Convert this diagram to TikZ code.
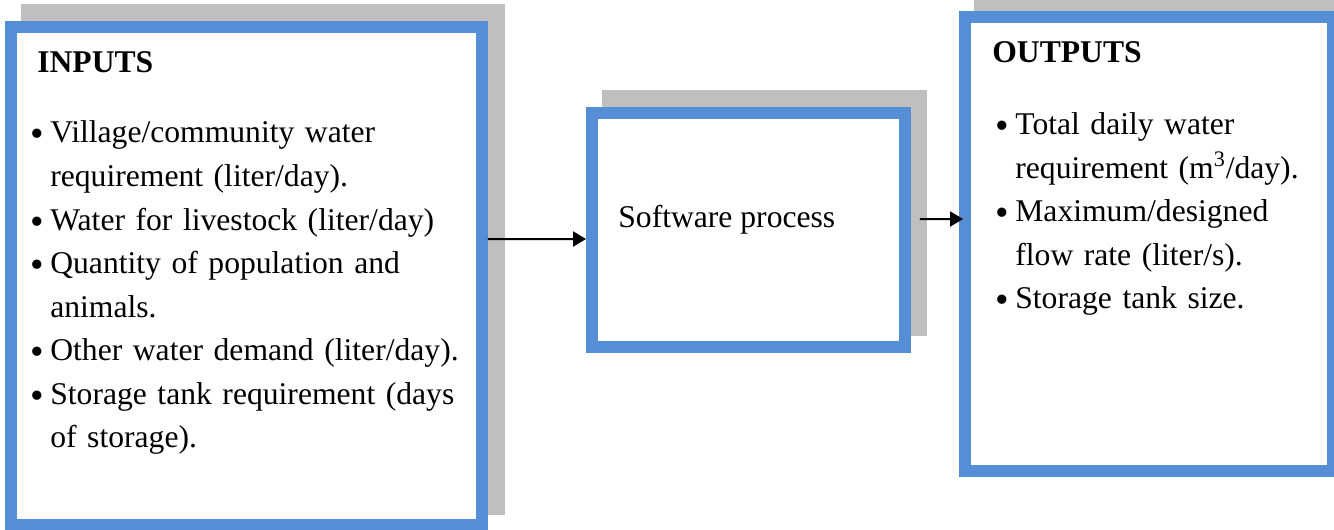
\documentclass[tikz,border=0pt]{standalone}
\usepackage{fontspec}
\setmainfont{Liberation Serif}
\usetikzlibrary{arrows.meta}
\definecolor{frame}{HTML}{558ED5}
\definecolor{backdrop}{HTML}{BFBFBF}

% one bullet entry with hanging indent
\newcommand{\bulletitem}[1]{\par\hangindent=0.39cm\hangafter=1\noindent\strut\makebox[0.39cm][l]{\raisebox{-2.3pt}{\fontsize{22}{24.8}\selectfont\textbullet}}#1\par}

\begin{document}
\begin{tikzpicture}[
  x=0.02cm, y=-0.02cm,
  panel/.style={draw=frame, line width=0.24cm, fill=white, rectangle},
  txt/.style={inner sep=0pt, font=\fontsize{18}{24.8}\selectfont},
  head/.style={txt, font=\fontsize{18}{24.8}\selectfont\bfseries},
  listtext/.style={txt, text width=8.8cm, align=left, anchor=north west},
  arr/.style={-{Triangle[length=0.26cm, width=0.3cm]}, line width=0.04cm}
]
  \useasboundingbox (0,0) rectangle (1334,529);

  % grey backdrops behind the three boxes
  \fill[backdrop] (21,4) rectangle (505,515);
  \fill[backdrop] (602,90) rectangle (927,336);
  \fill[backdrop] (974,-1) rectangle (1360,460);

  % boxes
  \node[panel, minimum width=9.42cm, minimum height=9.96cm] (inbox) at (246.5,276) {};
  \node[panel, minimum width=6.26cm, minimum height=4.68cm] (procbox) at (748.5,230) {};
  \node[panel, minimum width=7.36cm, minimum height=9.08cm] (outbox) at (1149,244) {};

  % inputs
  \node[head, anchor=base west] (intitle) at (37,72.5) {INPUTS};
  \node[listtext] (inlist) at (30.5,99) {%
    \bulletitem{Village/community water\newline requirement (liter/day).}%
    \bulletitem{Water for livestock (liter/day)}%
    \bulletitem{Quantity of population and\newline animals.}%
    \bulletitem{Other water demand (liter/day).}%
    \bulletitem{Storage tank requirement (days\newline of storage).}};

  % process
  \node[txt, anchor=base west] (proctext) at (618,227) {Software process};

  % outputs
  \node[head, anchor=base west] (outtitle) at (992,62.5) {OUTPUTS};
  \node[listtext, text width=7cm] (outlist) at (995.5,90.5) {%
    \bulletitem{Total daily water\newline requirement (m\textsuperscript{3}/day).}%
    \bulletitem{Maximum/designed\newline flow rate (liter/s).}%
    \bulletitem{Storage tank size.}};

  \draw[arr] ([yshift=0.74cm]inbox.east) -- ([yshift=-0.18cm]procbox.west);
  \draw[arr] ([xshift=0.18cm, yshift=0.22cm]procbox.east) -- ([xshift=0.08cm, yshift=0.5cm]outbox.west);
\end{tikzpicture}
\end{document}
